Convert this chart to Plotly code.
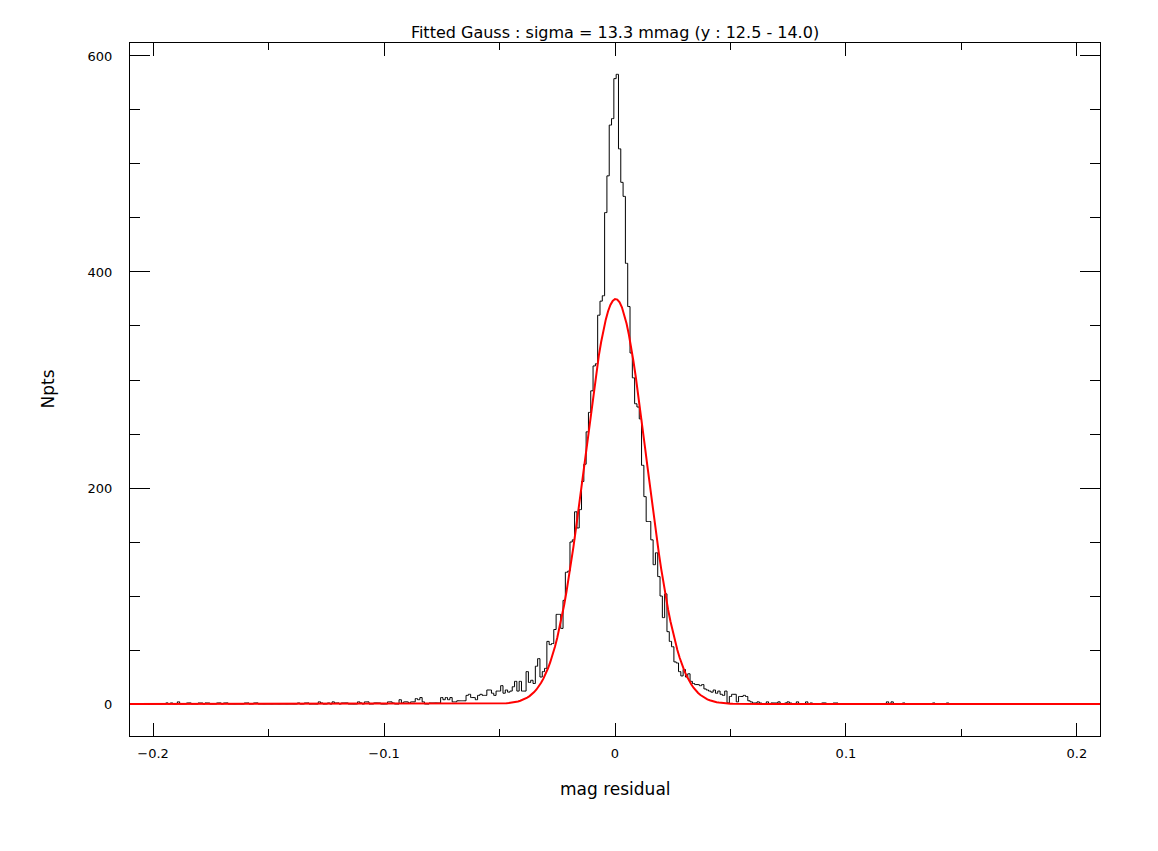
import math
import plotly.graph_objects as go

# histogram of mag residuals, 1 mmag bins centred on -0.210 ... +0.210
bin_width = 0.001
bin_first = -0.210

counts = [
    # -0.210 .. -0.191
    0, 0, 0, 0, 0, 0, 0, 0, 0, 0, 0, 0, 0, 0, 0, 0, 1, 0, 1, 0,
    # -0.190 .. -0.171
    0, 2, 0, 0, 0, 1, 1, 0, 0, 0, 1, 1, 0, 1, 1, 0, 0, 0, 1, 1,
    # -0.170 .. -0.151
    0, 1, 1, 0, 0, 0, 0, 0, 0, 0, 1, 1, 0, 0, 1, 1, 0, 0, 0, 0,
    # -0.150 .. -0.131
    0, 0, 0, 0, 0, 0, 0, 0, 0, 0, 0, 0, 0, 1, 0, 0, 1, 1, 0, 0,
    # -0.130 .. -0.111
    0, 0, 2, 1, 0, 0, 1, 0, 2, 1, 1, 0, 1, 1, 1, 0, 0, 0, 0, 2,
    # -0.110 .. -0.091
    1, 0, 2, 2, 0, 0, 1, 1, 1, 0, 0, 0, 2, 2, 1, 0, 0, 4, 1, 2,
    # -0.090 .. -0.071
    2, 1, 2, 2, 5, 4, 6, 2, 0, 0, 1, 1, 1, 1, 1, 6, 4, 6, 4, 6,
    # -0.070 .. -0.051
    2, 2, 3, 3, 3, 3, 8, 9, 6, 6, 4, 8, 9, 8, 8, 13, 13, 10, 8, 12,
    # -0.050 .. -0.031
    12, 17, 10, 13, 11, 12, 16, 21, 12, 21, 12, 12, 30, 20, 22, 19, 35, 42, 25, 30,
    # -0.030 .. -0.011
    33, 58, 55, 56, 69, 83, 83, 70, 96, 122, 123, 150, 152, 178, 163, 180, 206, 222, 252, 270,
    # -0.010 .. +0.009
    290, 313, 315, 360, 373, 378, 455, 489, 536, 542, 579, 583, 514, 483, 470, 408, 368, 325, 302, 278,
    # +0.010 .. +0.029
    275, 264, 221, 192, 169, 169, 152, 129, 140, 118, 100, 80, 102, 67, 58, 53, 39, 38, 30, 26,
    # +0.030 .. +0.049
    32, 25, 28, 21, 19, 18, 18, 17, 18, 14, 13, 12, 11, 13, 10, 12, 9, 8, 12, 1,
    # +0.050 .. +0.069
    7, 9, 9, 2, 7, 7, 8, 7, 3, 2, 1, 1, 2, 1, 0, 0, 2, 0, 1, 1,
    # +0.070 .. +0.089
    1, 2, 0, 0, 1, 2, 1, 0, 0, 2, 0, 0, 0, 2, 0, 1, 0, 0, 0, 0,
    # +0.090 .. +0.109
    1, 1, 0, 0, 0, 1, 1, 0, 0, 0, 0, 0, 0, 0, 0, 0, 0, 0, 0, 0,
    # +0.110 .. +0.129
    0, 0, 0, 0, 0, 0, 0, 0, 2, 0, 2, 0, 0, 0, 0, 1, 0, 0, 0, 0,
    # +0.130 .. +0.149
    0, 0, 0, 0, 0, 0, 0, 0, 1, 0, 0, 0, 0, 0, 1, 0, 0, 0, 0, 0,
    # +0.150 .. +0.169
    0, 0, 0, 0, 0, 0, 0, 0, 0, 0, 0, 0, 0, 0, 0, 0, 0, 0, 0, 0,
    # +0.170 .. +0.189
    0, 0, 0, 0, 0, 0, 0, 0, 0, 0, 0, 0, 0, 0, 0, 0, 0, 0, 0, 0,
    # +0.190 .. +0.210
    0, 0, 0, 0, 0, 0, 0, 0, 0, 0, 0, 0, 0, 0, 0, 0, 0, 0, 0, 0, 0,
]

# fitted gaussian parameters
fit_amp = 375.0
fit_mu = 0.0003
fit_sigma = 0.0133

x_ticks = [-0.2, -0.1, 0, 0.1, 0.2]
y_ticks = [0, 200, 400, 600]

title_text = 'Fitted Gauss : sigma = 13.3 mmag (y : 12.5 - 14.0)'
xlabel = 'mag residual'
ylabel = 'Npts'

centers = [round(bin_first + i * bin_width, 4) for i in range(len(counts))]
fit_y = [fit_amp * math.exp(-0.5 * ((c - fit_mu) / fit_sigma) ** 2) for c in centers]

font_family = 'DejaVu Sans, sans-serif'

fig = go.Figure()
fig.add_trace(go.Scatter(
    x=centers, y=counts, mode='lines',
    line=dict(color='black', width=1, shape='hvh'),
    hoverinfo='x+y', showlegend=False,
))
fig.add_trace(go.Scatter(
    x=centers, y=fit_y, mode='lines',
    line=dict(color='#ff0000', width=2),
    hoverinfo='x+y', showlegend=False,
))

# the page body adds 8px on the left/top, margins are set to compensate
fig.update_layout(
    width=1158, height=851,
    paper_bgcolor='white', plot_bgcolor='white',
    margin=dict(l=122, r=66, t=35, b=123),
    font=dict(family=font_family, size=13, color='black'),
    title=dict(text=title_text, x=0.5, xref='paper', xanchor='center',
               y=1 - 24 / 851, yref='container', yanchor='middle',
               font=dict(size=16, color='black')),
    annotations=[
        dict(text=xlabel, x=0.5, y=-53 / 693, xref='paper', yref='paper',
             showarrow=False, xanchor='center', yanchor='middle',
             font=dict(size=17)),
        dict(text=ylabel, x=-83 / 970, y=0.5, xref='paper', yref='paper',
             showarrow=False, textangle=-90, xanchor='center', yanchor='middle',
             font=dict(size=17)),
    ],
)

fig.update_xaxes(
    range=[-0.21, 0.21], tickvals=x_ticks,
    showgrid=False, zeroline=False, layer='below traces',
    showline=True, linecolor='black', linewidth=1, mirror='ticks',
    ticks='inside', ticklen=13, tickcolor='black', tickwidth=1,
    ticklabelstandoff=5,
    minor=dict(dtick=0.05, tick0=0, ticks='inside', ticklen=7,
               tickcolor='black', tickwidth=1, showgrid=False),
)
fig.update_yaxes(
    range=[-29.6, 612], tickvals=y_ticks,
    showgrid=False, zeroline=False, layer='below traces',
    showline=True, linecolor='black', linewidth=1, mirror='ticks',
    ticks='inside', ticklen=20, tickcolor='black', tickwidth=1,
    ticklabelstandoff=14,
    minor=dict(dtick=50, tick0=0, ticks='inside', ticklen=10,
               tickcolor='black', tickwidth=1, showgrid=False),
)

fig.write_html('out.html')
